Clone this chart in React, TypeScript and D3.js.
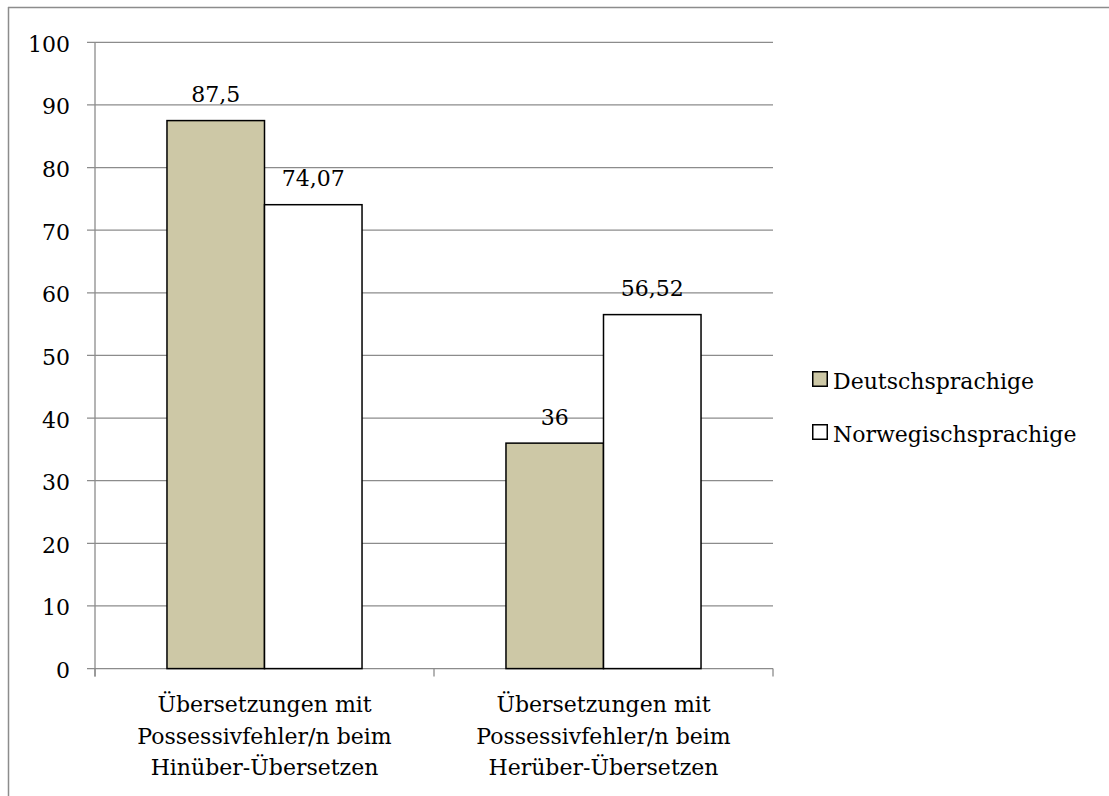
import React from "react";
import * as d3 from "d3";

const categories = [
  ["Übersetzungen mit", "Possessivfehler/n beim", "Hinüber-Übersetzen"],
  ["Übersetzungen mit", "Possessivfehler/n beim", "Herüber-Übersetzen"],
];
const seriesNames = ["Deutschsprachige", "Norwegischsprachige"];
const deutschValues = [87.5, 36];
const norwegValues = [74.07, 56.52];
const valueLabels = [["87,5", "36"], ["74,07", "56,52"]];
const yTicks = [0, 10, 20, 30, 40, 50, 60, 70, 80, 90, 100];
const colors = ["#CDC8A6", "#FFFFFF"];

const FONT = "'DejaVu Serif', serif";

export default function App() {
  const W = 1109, H = 796;
  const left = 95, right = 773, top = 42.3, bottom = 668.6;
  const y = d3.scaleLinear().domain([0, 100]).range([bottom, top]);
  const catIdx = categories.map((_, i) => String(i));
  const x0 = d3.scaleBand().domain(catIdx).range([left, right]).padding(0);
  const x1 = d3.scaleBand().domain(seriesNames).range([0, x0.bandwidth()]).paddingInner(0).paddingOuter(0.738);
  const series = [deutschValues, norwegValues];
  const grid = "#8c8c8c";

  return (
    <svg width={W} height={H} style={{ position: "absolute", left: 0, top: 0 }} fontFamily={FONT}>
      <rect x={0} y={0} width={W} height={H} fill="#fff" />
      <line x1={8} x2={W} y1={7.5} y2={7.5} stroke="#8c8c8c" strokeWidth={1.5} />
      <line x1={8.5} x2={8.5} y1={7} y2={H} stroke="#8c8c8c" strokeWidth={1.5} />
      {yTicks.map((t) => (
        <g key={t}>
          <line x1={87} x2={right} y1={y(t)} y2={y(t)} stroke={grid} strokeWidth={1.3} />
          <text x={70} y={y(t) + 9.5} textAnchor="end" fontSize={22} fill="#000">{t}</text>
        </g>
      ))}
      <line x1={left} x2={left} y1={top} y2={bottom + 8} stroke={grid} strokeWidth={1.3} />
      {[left, ...catIdx.map((c) => (x0(c) as number) + x0.bandwidth())].map((tx, i) => (
        <line key={i} x1={tx} x2={tx} y1={bottom} y2={bottom + 8} stroke={grid} strokeWidth={1.3} />
      ))}
      {series.map((vals, si) =>
        vals.map((v, ci) => {
          const bx = (x0(String(ci)) as number) + (x1(seriesNames[si]) as number);
          return (
            <g key={`${si}-${ci}`}>
              <rect x={bx} y={y(v)} width={x1.bandwidth()} height={y(0) - y(v)} fill={colors[si]} stroke="#000" strokeWidth={1.5} />
              <text x={bx + x1.bandwidth() / 2} y={y(v) - 18.5} textAnchor="middle" fontSize={22} fill="#000">{valueLabels[si][ci]}</text>
            </g>
          );
        })
      )}
      {categories.map((lines, ci) => (
        <text key={ci} textAnchor="middle" fontSize={22} fill="#000">
          {lines.map((l, li) => (
            <tspan key={li} x={(x0(String(ci)) as number) + x0.bandwidth() / 2} y={712 + li * 31.5}>{l}</tspan>
          ))}
        </text>
      ))}
      {seriesNames.map((n, i) => (
        <g key={n} transform={`translate(812, ${371 + i * 53})`}>
          <rect x={0.75} y={0.75} width={14.5} height={14.5} fill={colors[i]} stroke="#000" strokeWidth={1.5} />
          <text x={21} y={18} fontSize={22} fill="#000">{n}</text>
        </g>
      ))}
    </svg>
  );
}
